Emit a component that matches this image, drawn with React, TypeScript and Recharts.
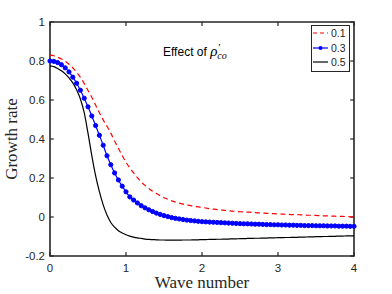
import React from "react";
import {
  LineChart,
  Line,
  XAxis,
  YAxis,
  Legend,
  Label,
  ReferenceArea,
  ReferenceLine,
} from "recharts";

// wave number grid (one marker per step on the 0.3 curve)
const waveNumbers = [
  0, 0.05, 0.1, 0.15, 0.2, 0.25, 0.3, 0.35, 0.4, 0.45,
  0.5, 0.55, 0.6, 0.65, 0.7, 0.75, 0.8, 0.85, 0.9, 0.95,
  1, 1.05, 1.1, 1.15, 1.2, 1.25, 1.3, 1.35, 1.4, 1.45,
  1.5, 1.55, 1.6, 1.65, 1.7, 1.75, 1.8, 1.85, 1.9, 1.95,
  2, 2.05, 2.1, 2.15, 2.2, 2.25, 2.3, 2.35, 2.4, 2.45,
  2.5, 2.55, 2.6, 2.65, 2.7, 2.75, 2.8, 2.85, 2.9, 2.95,
  3, 3.05, 3.1, 3.15, 3.2, 3.25, 3.3, 3.35, 3.4, 3.45,
  3.5, 3.55, 3.6, 3.65, 3.7, 3.75, 3.8, 3.85, 3.9, 3.95,
  4,
];

const rate01 = [
  0.83, 0.827, 0.82, 0.81, 0.798, 0.783, 0.765, 0.742, 0.716, 0.685,
  0.649, 0.614, 0.574, 0.535, 0.498, 0.465, 0.43, 0.39, 0.352, 0.315,
  0.281, 0.252, 0.226, 0.202, 0.18, 0.162, 0.146, 0.132, 0.12, 0.109,
  0.099, 0.091, 0.083, 0.077, 0.071, 0.066, 0.062, 0.058, 0.055, 0.052,
  0.049, 0.046, 0.043, 0.04, 0.038, 0.036, 0.034, 0.032, 0.03, 0.029,
  0.027, 0.026, 0.025, 0.024, 0.022, 0.021, 0.02, 0.019, 0.018, 0.017,
  0.016, 0.015, 0.014, 0.013, 0.012, 0.012, 0.011, 0.01, 0.009, 0.009,
  0.008, 0.007, 0.006, 0.006, 0.005, 0.004, 0.003, 0.003, 0.002, 0.001,
  0.0,
];

const rate03 = [
  0.8, 0.798, 0.792, 0.781, 0.765, 0.744, 0.717, 0.686, 0.65, 0.609,
  0.565, 0.518, 0.469, 0.419, 0.368, 0.314, 0.268, 0.226, 0.19, 0.158,
  0.129, 0.103, 0.087, 0.072, 0.058, 0.047, 0.037, 0.028, 0.02, 0.013,
  0.007, 0.002, -0.003, -0.007, -0.01, -0.013, -0.016, -0.018, -0.02, -0.022,
  -0.024, -0.025, -0.026, -0.027, -0.028, -0.029, -0.03, -0.031, -0.032, -0.033,
  -0.034, -0.035, -0.035, -0.036, -0.037, -0.037, -0.038, -0.039, -0.039, -0.04,
  -0.04, -0.041, -0.041, -0.042, -0.042, -0.043, -0.043, -0.044, -0.044, -0.044,
  -0.045, -0.045, -0.045, -0.046, -0.046, -0.046, -0.047, -0.047, -0.047, -0.048,
  -0.048,
];

const rate05 = [
  0.775, 0.771, 0.762, 0.75, 0.734, 0.713, 0.688, 0.652, 0.605, 0.535,
  0.43, 0.315, 0.212, 0.13, 0.062, 0.01, -0.028, -0.052, -0.07, -0.082,
  -0.091, -0.098, -0.103, -0.107, -0.11, -0.113, -0.115, -0.116, -0.117, -0.118,
  -0.118, -0.119, -0.119, -0.119, -0.119, -0.118, -0.118, -0.118, -0.117, -0.117,
  -0.116, -0.116, -0.115, -0.115, -0.114, -0.114, -0.113, -0.113, -0.112, -0.112,
  -0.111, -0.111, -0.11, -0.11, -0.109, -0.109, -0.108, -0.108, -0.107, -0.107,
  -0.106, -0.106, -0.105, -0.105, -0.104, -0.104, -0.103, -0.103, -0.102, -0.102,
  -0.101, -0.101, -0.1, -0.1, -0.099, -0.099, -0.098, -0.098, -0.097, -0.097,
  -0.097,
];

const seriesNames = ["0.1", "0.3", "0.5"];
const xTicks = [0, 1, 2, 3, 4];
const yTicks = [-0.2, 0, 0.2, 0.4, 0.6, 0.8, 1];

const data = waveNumbers.map((k, i) => ({
  k,
  r01: rate01[i],
  r03: rate03[i],
  r05: rate05[i],
}));

const X_MIN = 0;
const X_MAX = 4;
const Y_MIN = -0.2;
const Y_MAX = 1;

const AXIS = "#262626";
const SANS = "'Liberation Sans', Arial, sans-serif";
const SERIF = "'Liberation Serif', 'Times New Roman', serif";

// inward tick length, in axis units (~4px each way)
const TICK_DX = 0.05;
const TICK_DY = 0.02;
const X_MARGIN = 7;
const Y_MARGIN = 5;

function XTick(props: any) {
  const { x, y, payload } = props;
  return (
    <text
      x={x}
      y={y}
      dy="0.75em"
      textAnchor="middle"
      fill={AXIS}
      fontSize={11.5}
      fontFamily={SANS}
    >
      {String(payload.value)}
    </text>
  );
}

function YTick(props: any) {
  const { x, y, payload } = props;
  return (
    <text
      x={x}
      y={y}
      dy="0.36em"
      textAnchor="end"
      fill={AXIS}
      fontSize={11.5}
      fontFamily={SANS}
    >
      {String(payload.value)}
    </text>
  );
}

const legendLines = [
  { color: "#ff0000", dash: "4 3", marker: false },
  { color: "#0000ff", dash: undefined, marker: true },
  { color: "#000000", dash: undefined, marker: false },
];

function LegendBox() {
  return (
    <div
      style={{
        border: `1.3px solid ${AXIS}`,
        background: "#fff",
        width: 37,
        padding: "0 0 1px 0",
        fontFamily: SANS,
        fontSize: 10.5,
        color: AXIS,
      }}
    >
      {seriesNames.map((name, i) => (
        <div
          key={name}
          style={{ display: "flex", alignItems: "center", height: 14.5 }}
        >
          <svg width={18} height={8}>
            <line
              x1={1}
              x2={16}
              y1={4}
              y2={4}
              stroke={legendLines[i].color}
              strokeWidth={1.2}
              strokeDasharray={legendLines[i].dash}
            />
            {legendLines[i].marker && (
              <circle cx={8.5} cy={4} r={2} fill="#0000ff" />
            )}
          </svg>
          <span style={{ marginLeft: 1 }}>{name}</span>
        </div>
      ))}
    </div>
  );
}

export default function App() {
  return (
    <div
      style={{
        position: "absolute",
        left: 0,
        top: 0,
        width: 392,
        height: 294,
        background: "#fff",
      }}
    >
      <LineChart
        width={392}
        height={294}
        data={data}
        margin={{ top: 22, right: 38, bottom: 8, left: 10 }}
      >
        <XAxis
          dataKey="k"
          type="number"
          domain={[X_MIN, X_MAX]}
          ticks={xTicks}
          tick={<XTick />}
          tickLine={false}
          tickSize={0}
          axisLine={false}
          tickMargin={X_MARGIN}
          height={30}
        >
          <Label
            value="Wave number"
            position="insideBottom"
            offset={-2}
            style={{ fontFamily: SERIF, fontSize: 17, fill: AXIS }}
          />
        </XAxis>
        <YAxis
          type="number"
          domain={[Y_MIN, Y_MAX]}
          ticks={yTicks}
          tick={<YTick />}
          tickLine={false}
          tickSize={0}
          axisLine={false}
          tickMargin={Y_MARGIN}
          width={40}
        >
          <Label
            value="Growth rate"
            angle={-90}
            position="insideLeft"
            offset={1}
            style={{
              fontFamily: SERIF,
              fontSize: 17,
              fill: AXIS,
              textAnchor: "middle",
            }}
          />
        </YAxis>
        <ReferenceArea
          x1={X_MIN}
          x2={X_MAX}
          y1={Y_MIN}
          y2={Y_MAX}
          fill="none"
          stroke={AXIS}
          strokeWidth={1.6}
          ifOverflow="visible"
        />
        {/* MATLAB-style inward ticks on all four sides */}
        {xTicks.map((k) => (
          <ReferenceLine
            key={`xb${k}`}
            segment={[
              { x: k, y: Y_MIN },
              { x: k, y: Y_MIN + TICK_DY },
            ]}
            stroke={AXIS}
            strokeWidth={1.2}
            ifOverflow="visible"
          />
        ))}
        {xTicks.map((k) => (
          <ReferenceLine
            key={`xt${k}`}
            segment={[
              { x: k, y: Y_MAX },
              { x: k, y: Y_MAX - TICK_DY },
            ]}
            stroke={AXIS}
            strokeWidth={1.2}
            ifOverflow="visible"
          />
        ))}
        {yTicks.map((v) => (
          <ReferenceLine
            key={`yl${v}`}
            segment={[
              { x: X_MIN, y: v },
              { x: X_MIN + TICK_DX, y: v },
            ]}
            stroke={AXIS}
            strokeWidth={1.2}
            ifOverflow="visible"
          />
        ))}
        {yTicks.map((v) => (
          <ReferenceLine
            key={`yr${v}`}
            segment={[
              { x: X_MAX, y: v },
              { x: X_MAX - TICK_DX, y: v },
            ]}
            stroke={AXIS}
            strokeWidth={1.2}
            ifOverflow="visible"
          />
        ))}
        <Legend
          layout="horizontal"
          align="center"
          verticalAlign="middle"
          content={() => <LegendBox />}
          wrapperStyle={{ position: "absolute", left: 311, top: 25, width: 40 }}
        />
        <Line
          dataKey="r01"
          name="0.1"
          type="monotone"
          stroke="#ff0000"
          strokeWidth={1.2}
          strokeDasharray="5 3.5"
          dot={false}
          activeDot={false}
          isAnimationActive={false}
        />
        <Line
          dataKey="r03"
          name="0.3"
          type="monotone"
          stroke="#0000ff"
          strokeWidth={1.2}
          dot={{ r: 2.1, fill: "#0000ff", stroke: "#0000ff", strokeWidth: 1 }}
          activeDot={false}
          isAnimationActive={false}
        />
        <Line
          dataKey="r05"
          name="0.5"
          type="monotone"
          stroke="#000000"
          strokeWidth={1.2}
          dot={false}
          activeDot={false}
          isAnimationActive={false}
        />
      </LineChart>
      <div
        style={{
          position: "absolute",
          left: 163,
          top: 43,
          fontFamily: SANS,
          fontSize: 12,
          color: "#000",
          whiteSpace: "nowrap",
        }}
      >
        Effect of{" "}
        <span style={{ fontFamily: SERIF, fontStyle: "italic", fontSize: 15 }}>
          ρ
        </span>
        <span
          style={{
            position: "relative",
            display: "inline-block",
            width: 14,
            height: 10,
          }}
        >
          <span
            style={{
              position: "absolute",
              left: 1,
              top: -5,
              fontFamily: SERIF,
              fontSize: 11,
            }}
          >
            ′
          </span>
          <span
            style={{
              position: "absolute",
              left: 0,
              top: 4,
              fontFamily: SERIF,
              fontStyle: "italic",
              fontSize: 10,
            }}
          >
            co
          </span>
        </span>
      </div>
    </div>
  );
}
